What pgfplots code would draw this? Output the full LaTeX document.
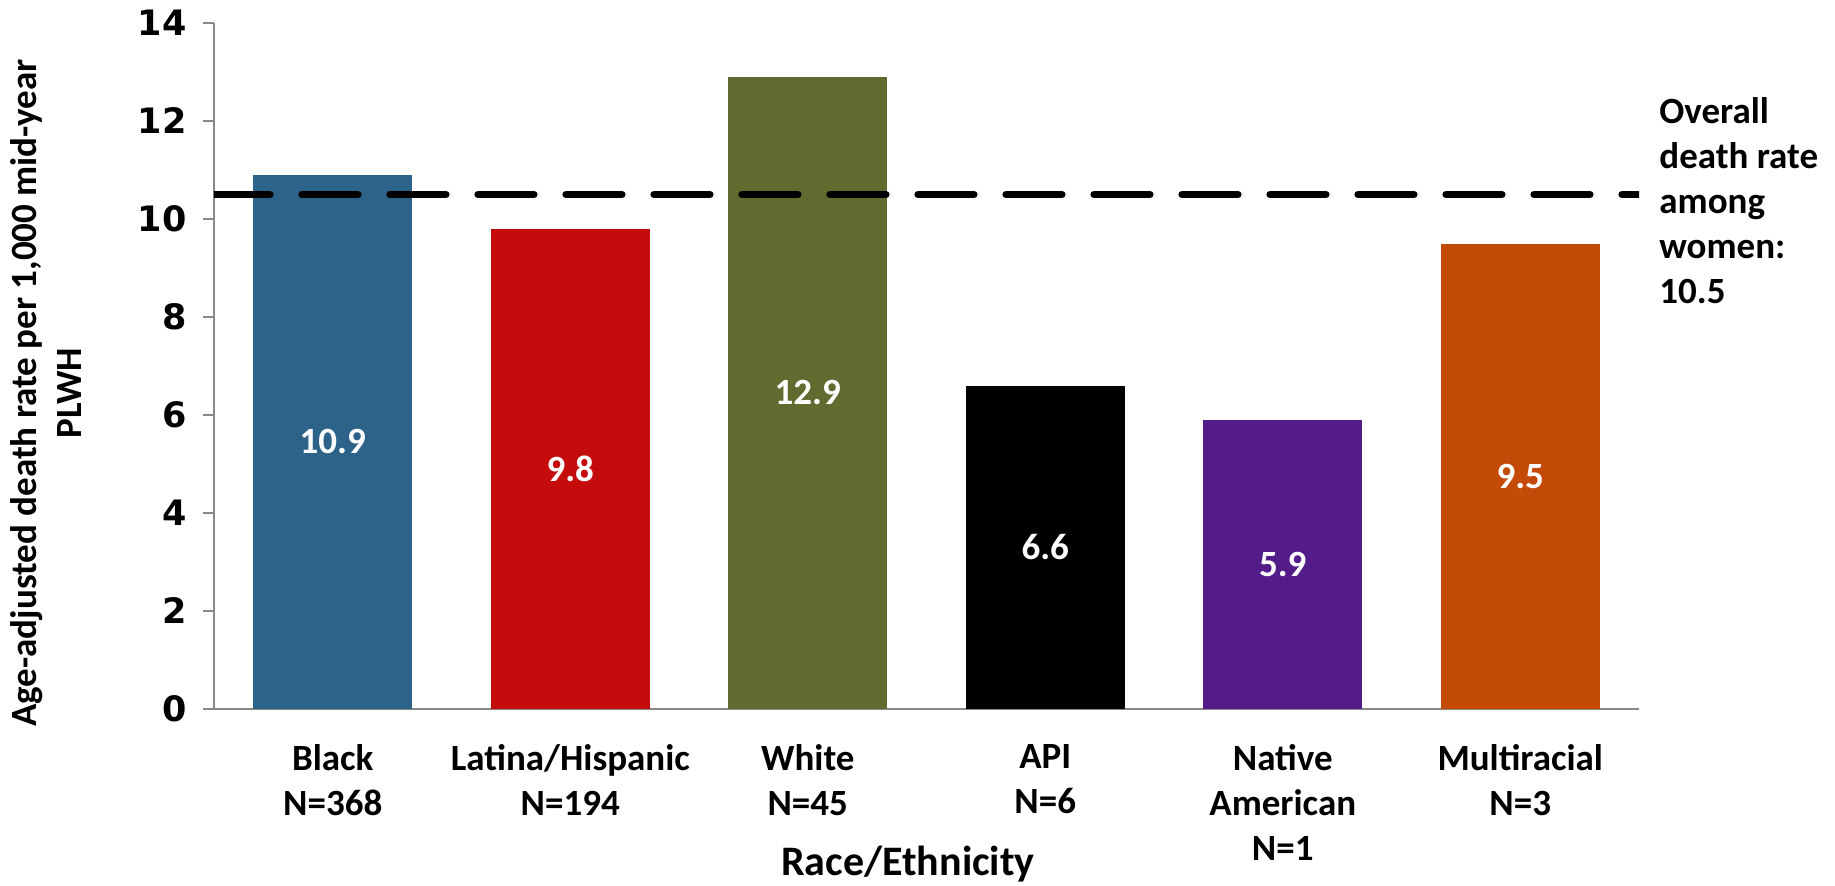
\documentclass[border=0pt]{standalone}
\usepackage{pgfplots}
\pgfplotsset{compat=1.18}
\usepackage{fontspec}
\setmainfont{Carlito}
\newfontfamily\tickfont{DejaVu Sans}

\definecolor{cBlack}{HTML}{2E6389}
\definecolor{cLatina}{HTML}{C40C0C}
\definecolor{cWhite}{HTML}{626A2F}
\definecolor{cAPI}{HTML}{000000}
\definecolor{cNative}{HTML}{531C89}
\definecolor{cMulti}{HTML}{C34B07}
\definecolor{axisgray}{HTML}{888888}

\begin{document}
\begin{tikzpicture}
\begin{axis}[
  scale only axis,
  width=712.5pt, height=343pt,
  xmin=-0.5, xmax=5.5, ymin=0, ymax=14,
  axis lines*=left,
  axis line style={-, draw=axisgray, line width=0.75pt},
  ytick={0,2,...,14},
  tick align=outside,
  major tick length=5.5pt,
  ytick style={draw=axisgray, line width=0.75pt},
  xtick={0,1,2,3,4,5},
  xtick style={draw=none},
  xticklabels={{Black\\N=368},{Latina/Hispanic\\N=194},{White\\N=45},{API\\N=6},{Native\\American\\N=1},{Multiracial\\N=3}},
  xticklabel style={font=\bfseries\fontsize{18.5}{22.5}\selectfont, align=center, anchor=north, inner sep=0pt, yshift=-12pt},
  yticklabel style={font=\tickfont\bfseries\fontsize{17.5}{20}\selectfont, anchor=east, inner sep=0pt, xshift=-8pt},
  /pgf/number format/assume math mode=true,
  bar width=0.67,
  nodes near coords,
  visualization depends on={rawy/2 \as \halfy},
  every node near coord/.append style={font=\bfseries\fontsize{18.5}{21}\selectfont, text=white, anchor=center, shift={(axis direction cs:0,-\halfy)}},
  nodes near coords={\pgfmathprintnumber[fixed, precision=1, fixed zerofill]{\pgfplotspointmeta}},
]
\coordinate (O) at (rel axis cs:0,0);
\addplot[ybar, bar shift=0pt, fill=cBlack, draw=none] coordinates {(0,10.9)};
\addplot[ybar, bar shift=0pt, fill=cLatina, draw=none] coordinates {(1,9.8)};
\addplot[ybar, bar shift=0pt, fill=cWhite, draw=none] coordinates {(2,12.9)};
\addplot[ybar, bar shift=0pt, fill=cAPI, draw=none] coordinates {(3,6.6)};
\addplot[ybar, bar shift=0pt, fill=cNative, draw=none] coordinates {(4,5.9)};
\addplot[ybar, bar shift=0pt, fill=cMulti, draw=none] coordinates {(5,9.5)};
% overall death rate among women
\addplot[black, line width=3.65pt, line cap=round, dash pattern=on 28pt off 16pt, nodes near coords=] coordinates {(-0.5,10.5) (5.5,10.5)};
\end{axis}
% axis titles and annotation
\node[rotate=90, align=center, font=\bfseries\fontsize{18.5}{22.5}\selectfont] at ([xshift=-84pt, yshift=158pt]O) {Age-adjusted death rate per 1,000 mid-year\\PLWH};
\node[font=\bfseries\fontsize{21}{24}\selectfont] at ([xshift=347pt, yshift=-77.5pt]O) {Race/Ethnicity};
\node[anchor=north west, align=left, inner sep=0pt, font=\bfseries\fontsize{18.5}{22.5}\selectfont] at ([xshift=722.5pt, yshift=306pt]O) {Overall\\death rate\\among\\women:\\10.5};
\pgfresetboundingbox
\path[use as bounding box] ([xshift=-107pt, yshift=-88pt]O) rectangle ([xshift=810.5pt, yshift=354.5pt]O);
\end{tikzpicture}
\end{document}
